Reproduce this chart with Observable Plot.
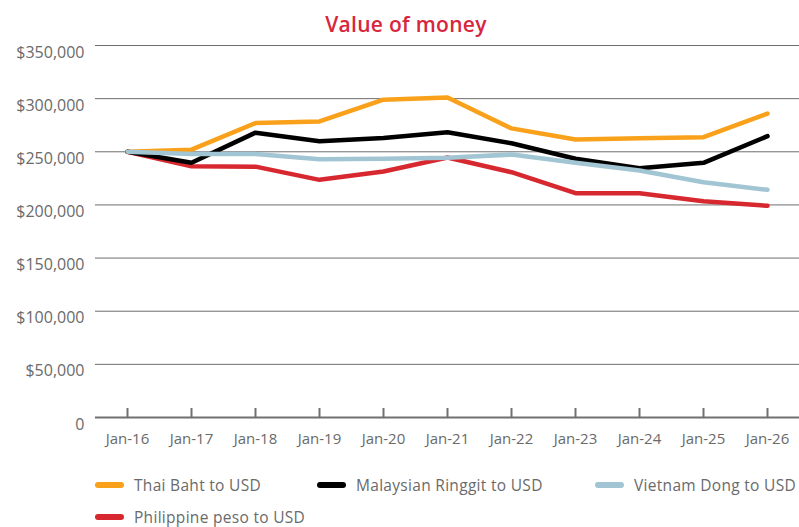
<!DOCTYPE html>
<html>
<head>
<meta charset="utf-8">
<script src="https://cdn.jsdelivr.net/npm/d3@7"></script>
<script src="https://cdn.jsdelivr.net/npm/@observablehq/plot@0.6"></script>
<style>
  html, body { margin: 0; padding: 0; background: #fff; }
  body { width: 799px; height: 527px; overflow: hidden; position: relative; font-family: "Open Sans", Lato, sans-serif; }
  #title { position: absolute; left: 0; width: 812px; top: 10px; text-align: center; font-family: "Open Sans", sans-serif; font-weight: 600; font-size: 21px; color: #d7263d; letter-spacing: 0.3px; }
  #chart { position: absolute; left: 0; top: 0; }
  .leg { position: absolute; font-size: 15.5px; line-height: 20px; color: #6a6a6a; white-space: nowrap; display: flex; align-items: center; letter-spacing: 0.3px; }
  .sw { display: inline-block; width: 29px; height: 6px; border-radius: 3px; margin-right: 10px; }
</style>
</head>
<body>
<div id="chart"></div>
<div id="title">Value of money</div>
<div id="legend"></div>
<script>
const months = ["Jan-16","Jan-17","Jan-18","Jan-19","Jan-20","Jan-21","Jan-22","Jan-23","Jan-24","Jan-25","Jan-26"];
const thai       = [250000, 252000, 277000, 278500, 299000, 301000, 272000, 261500, 262800, 263700, 286000];
const malaysian  = [250000, 239600, 268000, 260000, 263000, 268400, 258000, 243400, 234600, 239600, 264700];
const vietnam    = [250000, 248000, 248000, 243000, 243500, 244300, 247400, 239600, 232400, 221400, 214200];
const philippine = [250000, 236400, 236000, 223600, 231500, 244600, 230800, 211000, 211000, 203500, 199200];
const yTicks = [0, 50000, 100000, 150000, 200000, 250000, 300000, 350000];
const seriesNames = ["Thai Baht to USD", "Malaysian Ringgit to USD", "Vietnam Dong to USD", "Philippine peso to USD"];
const seriesColors = ["#f9a11b", "#000000", "#a2c5d3", "#d7282f"];

const seriesValues = [thai, malaysian, vietnam, philippine];
const rows = [];
seriesNames.forEach((name, s) => months.forEach((m, i) => rows.push({series: name, month: m, value: seriesValues[s][i]})));
const drawOrder = [0, 3, 1, 2];

const fmt = v => v === 0 ? "0" : "$" + d3.format(",")(v);

const plot = Plot.plot({
  width: 799,
  height: 460,
  marginLeft: 95,
  marginRight: 0,
  marginTop: 45,
  marginBottom: 43,
  x: {type: "point", domain: months, padding: 0.5, axis: null},
  y: {domain: [0, 350000], axis: null},
  style: {fontFamily: "'Open Sans', Lato, sans-serif", background: "#fff"},
  marks: [
    Plot.ruleY(yTicks.filter(d => d > 0), {y: d => d, stroke: "#6e6e6e", strokeWidth: 1}),
    Plot.ruleY([0], {stroke: "#707070", strokeWidth: 2}),
    Plot.ruleX(months, {x: d => d, y1: 0, y2: 0, insetTop: -9, stroke: "#707070", strokeWidth: 2}),
    Plot.text(yTicks, {x: () => months[0], y: d => d, text: fmt, textAnchor: "end", dx: -43, dy: 7, fontSize: 16, fill: "#6a6a6a", style: "letter-spacing:0.9px"}),
    Plot.text(months, {x: d => d, y: 0, text: d => d, dy: 22, fontSize: 15, fill: "#6a6a6a", style: "letter-spacing:0.4px"}),
    ...drawOrder.map(s => Plot.line(rows.filter(r => r.series === seriesNames[s]), {
      x: "month", y: "value", stroke: seriesColors[s], strokeWidth: 4.5, strokeLinejoin: "round", strokeLinecap: "round"
    }))
  ]
});
document.getElementById("chart").appendChild(plot);

const legPos = [[95, 475], [317, 475], [595, 475], [95, 507]];
const legend = document.getElementById("legend");
seriesNames.forEach((name, i) => {
  const el = document.createElement("div");
  el.className = "leg";
  el.style.left = legPos[i][0] + "px";
  el.style.top = legPos[i][1] + "px";
  el.innerHTML = `<span class="sw" style="background:${seriesColors[i]}"></span><span>${name}</span>`;
  legend.appendChild(el);
});
</script>
</body>
</html>
